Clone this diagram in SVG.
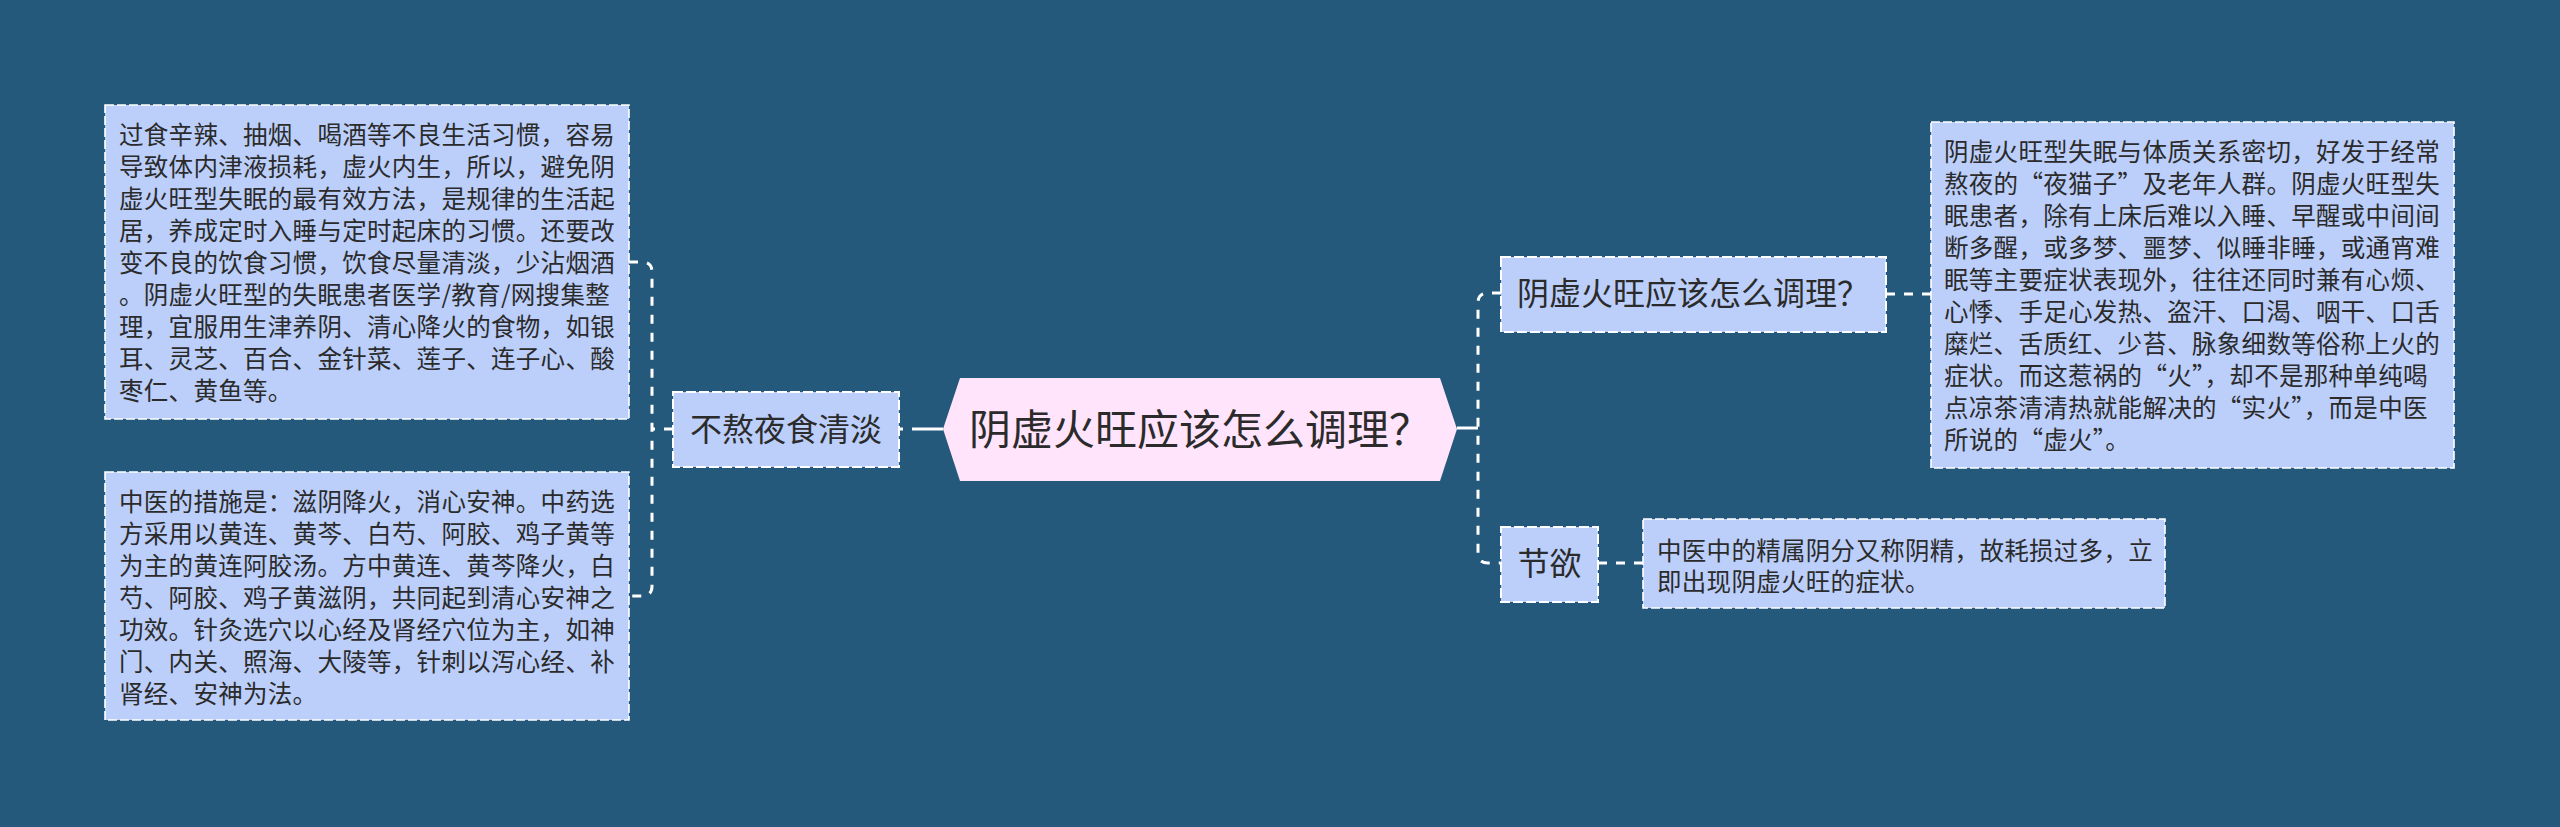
<svg xmlns="http://www.w3.org/2000/svg" width="2560" height="827" viewBox="0 0 2560 827" lang="zh-CN">
<style>
  .bg { fill: #24597b; }
  .box { fill: #bccffb; stroke: #ffffff; stroke-width: 1.6; stroke-dasharray: 9 3; }
  .node { fill: #bccffb; stroke: #ffffff; stroke-width: 2; stroke-dasharray: 10 3; }
  .center { fill: #ffe4fb; }
  .conn { fill: none; stroke: #ffffff; stroke-width: 3; stroke-dasharray: 9 9; }
  .t { font-family: "Noto Sans CJK SC", "Noto Sans", sans-serif; fill: #2b2b2b; }
  .small { font-size: 24.5px; letter-spacing: 0.3px; }
  .fw { font-feature-settings: "fwid" 1; }
  .mid { font-size: 32px; }
  .big { font-size: 42px; }
</style>
<rect class="bg" x="0" y="0" width="2560" height="827"/>

<g id="connectors">
  <path class="conn" d="M943,429 H899" style="stroke-dasharray: 31 9"/>
  <path class="conn" d="M673,429 H652"/>
  <path class="conn" d="M629,262 H642 Q652,262 652,272 V586 Q652,596 642,596 H629"/>
  <path class="conn" d="M1457,428 H1478" style="stroke-dasharray: none"/>
  <path class="conn" d="M1501,293 H1488 Q1478,293 1478,303 V553 Q1478,563 1488,563 H1501"/>
  <path class="conn" d="M1886,294 H1931"/>
  <path class="conn" d="M1598,563 H1643"/>
</g>

<g id="center-node">
  <polygon class="center" points="943,429 960,378 1440,378 1457,429 1440,481 960,481"/>
  <text class="t big" x="1200" y="445" text-anchor="middle">阴虚火旺应该怎么调理？</text>
</g>

<g id="node-buaoye">
  <rect class="node" x="673" y="392" width="226" height="75"/>
  <text class="t mid" x="786" y="441" text-anchor="middle">不熬夜食清淡</text>
</g>

<g id="text-left-1">
  <rect class="box" x="105" y="105" width="524" height="314"/>
  <text class="t small">
    <tspan x="119" y="144">过食辛辣、抽烟、喝酒等不良生活习惯，容易</tspan>
    <tspan x="119" y="176">导致体内津液损耗，虚火内生，所以，避免阴</tspan>
    <tspan x="119" y="208">虚火旺型失眠的最有效方法，是规律的生活起</tspan>
    <tspan x="119" y="240">居，养成定时入睡与定时起床的习惯。还要改</tspan>
    <tspan x="119" y="272">变不良的饮食习惯，饮食尽量清淡，少沾烟酒</tspan>
    <tspan x="119" y="304">。阴虚火旺型的失眠患者医学/教育/网搜集整</tspan>
    <tspan x="119" y="336">理，宜服用生津养阴、清心降火的食物，如银</tspan>
    <tspan x="119" y="368">耳、灵芝、百合、金针菜、莲子、连子心、酸</tspan>
    <tspan x="119" y="400">枣仁、黄鱼等。</tspan>
  </text>
</g>

<g id="text-left-2">
  <rect class="box" x="105" y="472" width="524" height="248"/>
  <text class="t small">
    <tspan x="119" y="511">中医的措施是：滋阴降火，消心安神。中药选</tspan>
    <tspan x="119" y="543">方采用以黄连、黄芩、白芍、阿胶、鸡子黄等</tspan>
    <tspan x="119" y="575">为主的黄连阿胶汤。方中黄连、黄芩降火，白</tspan>
    <tspan x="119" y="607">芍、阿胶、鸡子黄滋阴，共同起到清心安神之</tspan>
    <tspan x="119" y="639">功效。针灸选穴以心经及肾经穴位为主，如神</tspan>
    <tspan x="119" y="671">门、内关、照海、大陵等，针刺以泻心经、补</tspan>
    <tspan x="119" y="703">肾经、安神为法。</tspan>
  </text>
</g>

<g id="node-tiaoli">
  <rect class="node" x="1501" y="257" width="385" height="75"/>
  <text class="t mid" x="1693" y="305" text-anchor="middle">阴虚火旺应该怎么调理？</text>
</g>

<g id="text-right-1">
  <rect class="box" x="1931" y="122" width="523" height="346"/>
  <text class="t small fw">
    <tspan x="1944" y="161">阴虚火旺型失眠与体质关系密切，好发于经常</tspan>
    <tspan x="1944" y="193">熬夜的“夜猫子”及老年人群。阴虚火旺型失</tspan>
    <tspan x="1944" y="225">眠患者，除有上床后难以入睡、早醒或中间间</tspan>
    <tspan x="1944" y="257">断多醒，或多梦、噩梦、似睡非睡，或通宵难</tspan>
    <tspan x="1944" y="289">眠等主要症状表现外，往往还同时兼有心烦、</tspan>
    <tspan x="1944" y="321">心悸、手足心发热、盗汗、口渴、咽干、口舌</tspan>
    <tspan x="1944" y="353">糜烂、舌质红、少苔、脉象细数等俗称上火的</tspan>
    <tspan x="1944" y="385">症状。而这惹祸的“火”，却不是那种单纯喝</tspan>
    <tspan x="1944" y="417">点凉茶清清热就能解决的“实火”，而是中医</tspan>
    <tspan x="1944" y="449">所说的“虚火”。</tspan>
  </text>
</g>

<g id="node-jieyu">
  <rect class="node" x="1501" y="527" width="97" height="75"/>
  <text class="t mid" x="1549.5" y="575" text-anchor="middle">节欲</text>
</g>

<g id="text-right-2">
  <rect class="box" x="1643" y="519" width="522" height="89"/>
  <text class="t small">
    <tspan x="1657" y="560">中医中的精属阴分又称阴精，故耗损过多，立</tspan>
    <tspan x="1657" y="591">即出现阴虚火旺的症状。</tspan>
  </text>
</g>
</svg>
